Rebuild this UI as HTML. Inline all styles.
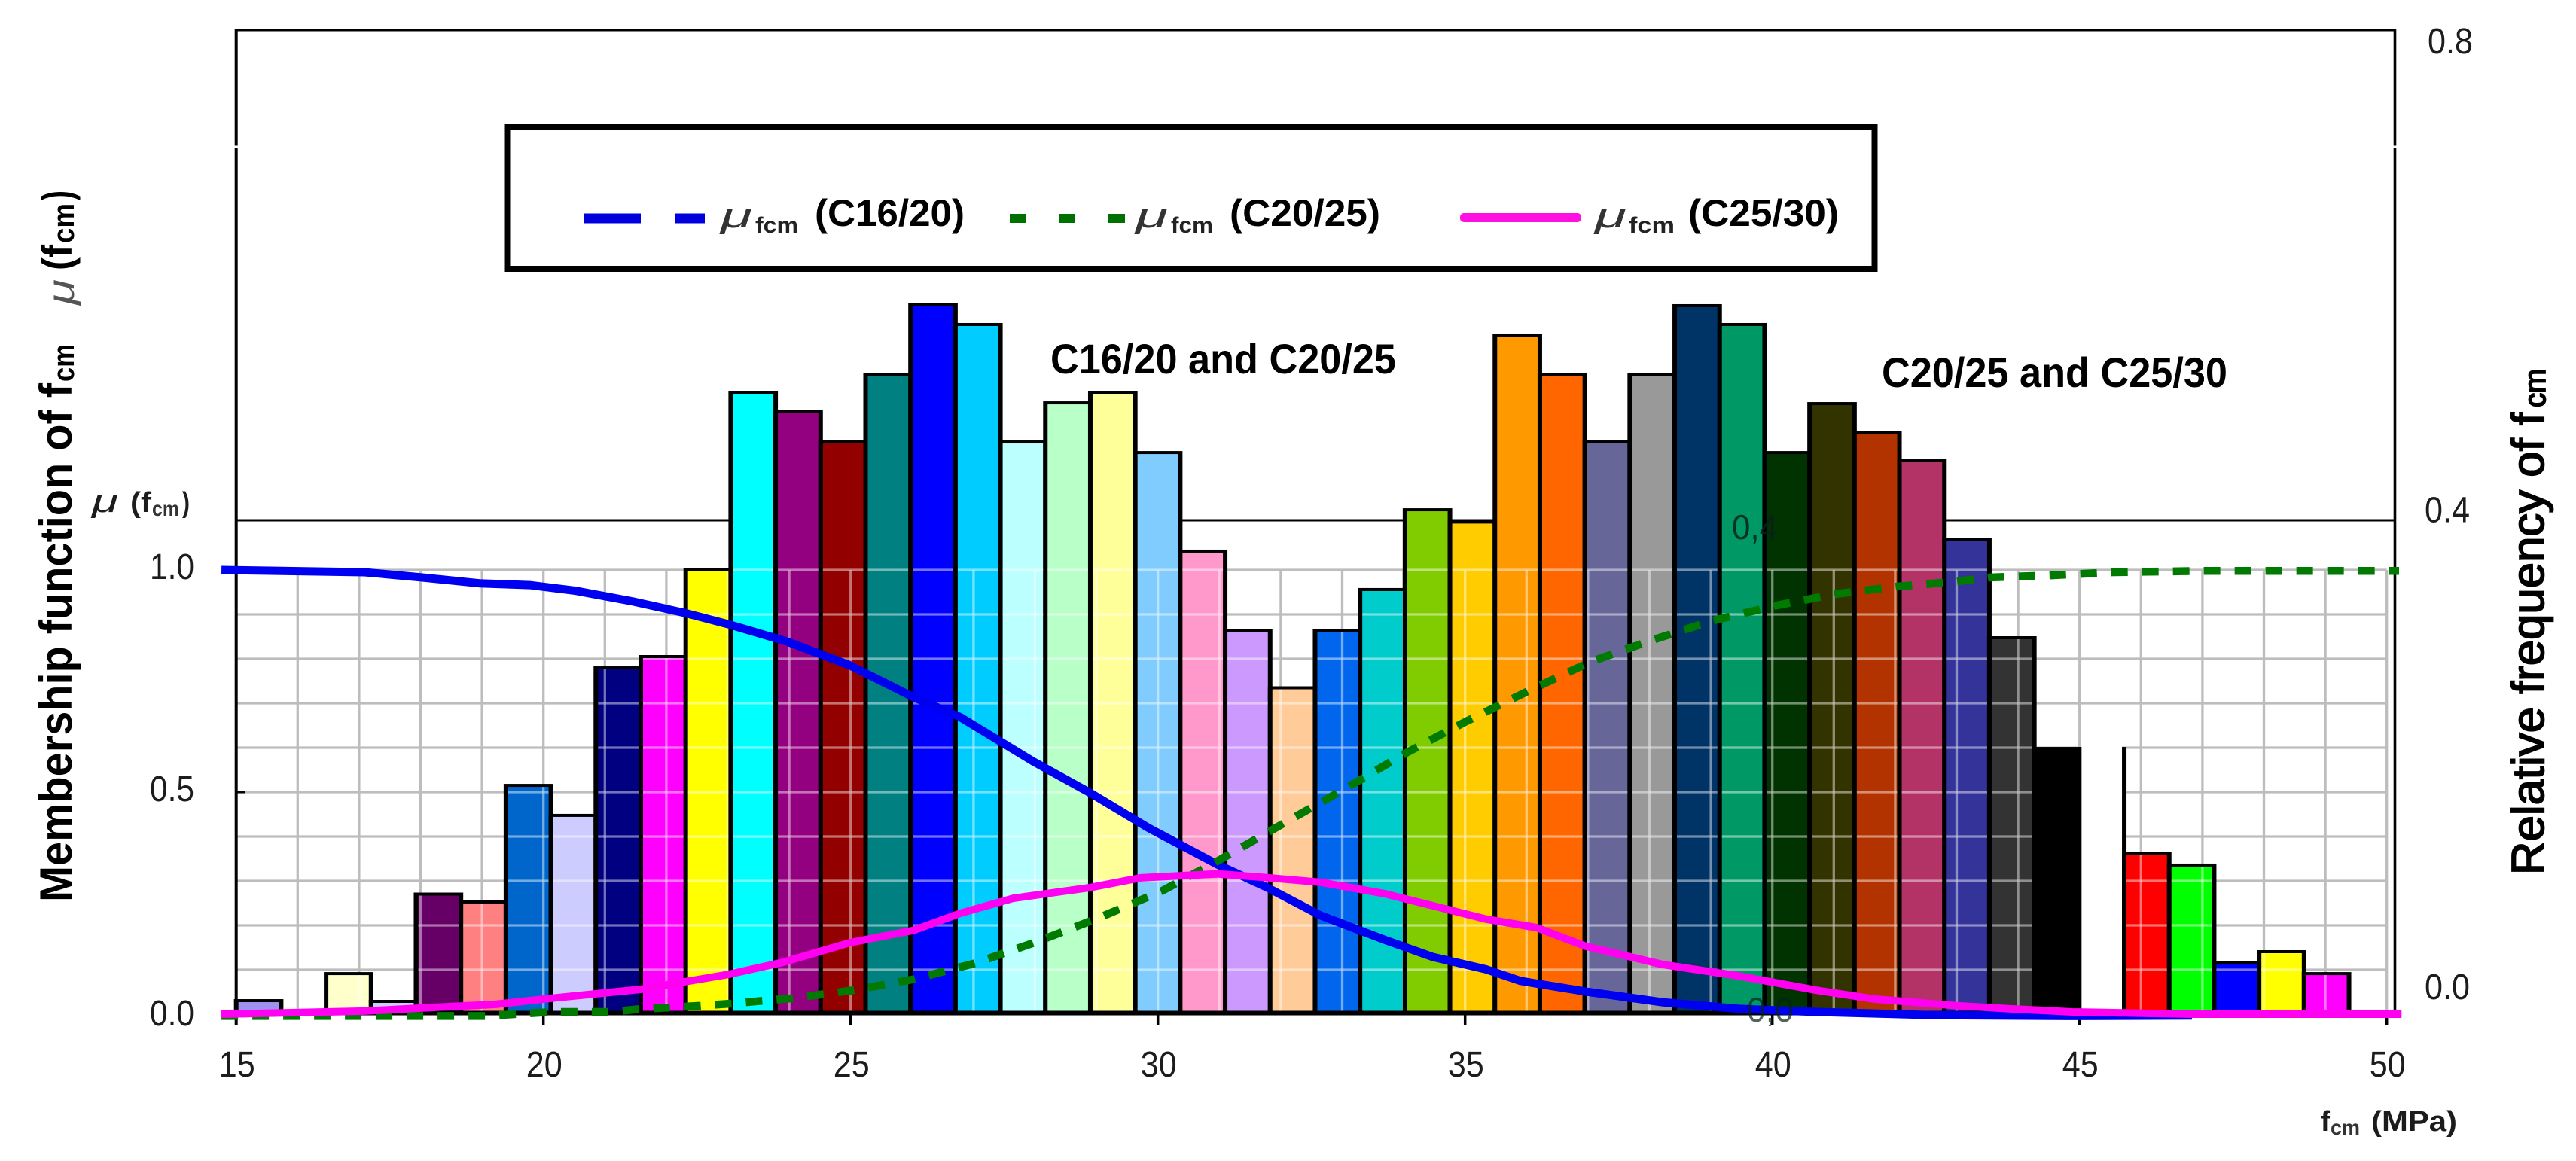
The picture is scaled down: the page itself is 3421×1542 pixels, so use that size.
<!DOCTYPE html>
<html lang="en">
<head>
<meta charset="utf-8">
<title>Membership function and relative frequency of fcm</title>
<style>
html,body{margin:0;padding:0;background:#fff;}
svg{display:block;font-family:"Liberation Sans",sans-serif;}
</style>
</head>
<body>
<svg id="chart" xmlns="http://www.w3.org/2000/svg" width="3421" height="1542" viewBox="0 0 3421 1542">
  <rect x="0" y="0" width="3421" height="1542" fill="#ffffff"/>
  <line x1="312" y1="40" x2="3182" y2="40" stroke="#000" stroke-width="3"/>
  <line x1="313" y1="691" x2="3180" y2="691" stroke="#000" stroke-width="3"/>
  <g id="grid-under"></g>
  <g id="bars"></g>
  <g id="grid-over" style="mix-blend-mode:screen"></g>
  <line x1="313.7" y1="38.5" x2="313.7" y2="1362" stroke="#000" stroke-width="4"/>
  <line x1="311" y1="195" x2="316" y2="195" stroke="#fff" stroke-width="3"/>
  <line x1="3180.5" y1="38.5" x2="3180.5" y2="1351" stroke="#000" stroke-width="3.6"/>
  <line x1="3178" y1="195" x2="3183" y2="195" stroke="#fff" stroke-width="3"/>
  <line x1="313" y1="1345.5" x2="3180" y2="1345.5" stroke="#000" stroke-width="6"/>
  <line x1="314" y1="1052" x2="326" y2="1052" stroke="#000" stroke-width="3"/>
  <g id="x-ticks"></g>
  <g id="curves"></g>
  <g id="tick-labels" font-size="48" fill="#1c1c1c"></g>

  <text x="2300" y="716" font-size="46" fill="#06221a" fill-opacity="0.85" textLength="61" lengthAdjust="spacingAndGlyphs">0,4</text>
  <text x="2320" y="1357" font-size="46" fill="#06221a" fill-opacity="0.7" textLength="62" lengthAdjust="spacingAndGlyphs">0,0</text>

  <g>
    <rect x="673.5" y="169" width="1816" height="188" fill="#fff" stroke="#000" stroke-width="8"/>
    <rect x="775" y="283.5" width="76" height="13" fill="#0000dd"/>
    <rect x="896" y="283.5" width="40" height="13" fill="#0000dd"/>
    <rect x="1341" y="284" width="22" height="12" fill="#007000"/>
    <rect x="1407" y="284" width="21" height="12" fill="#007000"/>
    <rect x="1472" y="284" width="22" height="12" fill="#007000"/>
    <rect x="1939" y="283" width="161" height="12" rx="5" fill="#ff10e0"/>
    <g>
      <text x="957" y="302" font-size="46" font-style="italic" fill="#333" textLength="42" lengthAdjust="spacingAndGlyphs">μ</text>
      <text x="1003" y="309" font-size="30" font-weight="bold" fill="#222" textLength="57" lengthAdjust="spacingAndGlyphs">fcm</text>
      <text x="1082" y="300" font-size="50" font-weight="bold" fill="#000" textLength="199" lengthAdjust="spacingAndGlyphs">(C16/20)</text>
    </g>
    <g>
      <text x="1508" y="302" font-size="46" font-style="italic" fill="#333" textLength="43" lengthAdjust="spacingAndGlyphs">μ</text>
      <text x="1555" y="309" font-size="30" font-weight="bold" fill="#222" textLength="56" lengthAdjust="spacingAndGlyphs">fcm</text>
      <text x="1633" y="300" font-size="50" font-weight="bold" fill="#000" textLength="200" lengthAdjust="spacingAndGlyphs">(C20/25)</text>
    </g>
    <g>
      <text x="2118" y="302" font-size="46" font-style="italic" fill="#333" textLength="42" lengthAdjust="spacingAndGlyphs">μ</text>
      <text x="2163" y="309" font-size="30" font-weight="bold" fill="#222" textLength="61" lengthAdjust="spacingAndGlyphs">fcm</text>
      <text x="2242" y="300" font-size="50" font-weight="bold" fill="#000" textLength="200" lengthAdjust="spacingAndGlyphs">(C25/30)</text>
    </g>
  </g>

  <text x="1395" y="496" font-size="56" font-weight="bold" fill="#000" textLength="459" lengthAdjust="spacingAndGlyphs">C16/20 and C20/25</text>
  <text x="2499" y="514" font-size="56" font-weight="bold" fill="#000" textLength="459" lengthAdjust="spacingAndGlyphs">C20/25 and C25/30</text>

  <g font-weight="bold" fill="#000">
    <text transform="translate(95,1198) rotate(-90)" font-size="60" textLength="689" lengthAdjust="spacingAndGlyphs">Membership function of f</text>
    <text transform="translate(98,507) rotate(-90)" font-size="40" textLength="50" lengthAdjust="spacingAndGlyphs">cm</text>
    <text transform="translate(98,405) rotate(-90)" font-size="50" font-style="italic" font-weight="normal" fill="#555" textLength="34" lengthAdjust="spacingAndGlyphs">μ</text>
    <text transform="translate(95,359) rotate(-90)" font-size="56" textLength="34" lengthAdjust="spacingAndGlyphs">(f</text>
    <text transform="translate(98,323) rotate(-90)" font-size="40" textLength="53" lengthAdjust="spacingAndGlyphs">cm</text>
    <text transform="translate(95,266) rotate(-90)" font-size="56" textLength="13" lengthAdjust="spacingAndGlyphs">)</text>
  </g>

  <g fill="#000" stroke="#000" stroke-width="1.8">
    <text transform="translate(3378,1162) rotate(-90)" font-size="60" textLength="614" lengthAdjust="spacingAndGlyphs">Relative frequency of f</text>
    <text transform="translate(3380,541) rotate(-90)" font-size="40" textLength="51" lengthAdjust="spacingAndGlyphs">cm</text>
  </g>

  <g font-weight="bold" fill="#1c1c1c">
    <text x="122" y="680" font-size="42" font-style="italic" font-weight="normal" textLength="35" lengthAdjust="spacingAndGlyphs">μ</text>
    <text x="173" y="680" font-size="38" textLength="28" lengthAdjust="spacingAndGlyphs">(f</text>
    <text x="202" y="685" font-size="28" fill="#333" textLength="36" lengthAdjust="spacingAndGlyphs">cm</text>
    <text x="242" y="680" font-size="38" textLength="10" lengthAdjust="spacingAndGlyphs">)</text>
  </g>

  <g font-weight="bold" fill="#1c1c1c">
    <text x="3082" y="1502" font-size="38" textLength="12" lengthAdjust="spacingAndGlyphs">f</text>
    <text x="3095" y="1507" font-size="28" fill="#333" textLength="39" lengthAdjust="spacingAndGlyphs">cm</text>
    <text x="3149" y="1502" font-size="38" textLength="114" lengthAdjust="spacingAndGlyphs">(MPa)</text>
  </g>
</svg>

<script>
// Chart data
const barFrequencies = [0.011,0,0.033,0.0104,0.0976,0.0912,0.186,0.1616,0.2815,0.2907,0.3611,0.5055,0.4896,0.4651,0.5202,0.5765,0.5606,0.4651,0.4969,0.5055,0.4565,0.3764,0.3121,0.2653,0.3121,0.3452,0.41,0.40,0.552,0.5202,0.4651,0.5202,0.5759,0.5606,0.4565,0.4963,0.4725,0.4498,0.3856,0.306,0.216,0.216,0.1304,0.1212,0.0422,0.0508,0.033];
const barColors = ["#a090f0","#993366","#FFFFCC","#CCCCFF","#660066","#FF8080","#0066CC","#CCCCFF","#000080","#FF00FF","#FFFF00","#00FFFF","#930080","#930000","#008080","#0000FF","#00CCFF","#BBFFFF","#B8FFC8","#FFFF99","#80CCFF","#FF99CC","#CC99FF","#FFCC99","#0066EE","#00CCCC","#80CC00","#FFCC00","#FF9900","#FF6600","#666699","#999999","#003366","#009966","#003300","#333300","#B33300","#B33366","#333399","#333333","#000000","#FFFFFF","#FF0000","#00FF00","#0000FF","#FFFF00","#FF00FF"];
const blueX = [14.76,17.09,18.03,18.96,19.78,20.53,21.46,22.34,23.03,23.96,24.99,26.03,26.78,27.97,28.90,29.84,30.97,31.78,32.65,33.70,34.47,35.34,35.9,36.96,38.21,39.46,40.71,42.59,44.82,46.83];
const blueMu = [1.0,0.995,0.983,0.970,0.966,0.953,0.929,0.902,0.877,0.839,0.785,0.713,0.669,0.569,0.498,0.420,0.337,0.285,0.222,0.167,0.129,0.101,0.075,0.051,0.027,0.012,0.005,-0.002,-0.004,-0.003];
const pinkX = [14.76,17.09,18.15,19.21,20.21,21.58,23.03,23.9,24.99,26.03,26.78,27.65,28.9,29.72,30.97,31.72,32.65,33.7,34.71,35.34,36.16,36.96,38.21,39.46,40.71,41.66,43.02,43.88,44.88,46.83,50.24];
const pinkMu = [0,0.007,0.015,0.022,0.037,0.056,0.09,0.117,0.161,0.189,0.227,0.261,0.285,0.307,0.316,0.308,0.297,0.271,0.236,0.214,0.195,0.153,0.112,0.086,0.054,0.034,0.019,0.012,0.005,0,0];
const greenX = [14.76,17.09,19.06,20.14,21.11,21.52,22.56,23.07,23.55,24.06,25.05,26.04,27.03,28.05,29.04,30.06,31.0,32.0,33.04,34.01,35.03,36.02,37.04,38.04,39.03,40.06,41.03,42.06,42.93,43.53,44.55,45.55,47.04,50.2];
const greenMu = [-0.004,-0.004,-0.004,0.005,0.005,0.011,0.019,0.024,0.03,0.036,0.054,0.079,0.115,0.164,0.217,0.277,0.347,0.426,0.507,0.586,0.66,0.727,0.793,0.842,0.886,0.92,0.946,0.963,0.973,0.983,0.988,0.995,0.998,0.998];
const xTickValues = [15,20,25,30,35,40,45,50];
const xTickLabels = ["15","20","25","30","35","40","45","50"];
const muGridValues = [0,0.1,0.2,0.3,0.4,0.5,0.6,0.7,0.8,0.9,1.0];
const xGridValues = [15,16,17,18,19,20,21,22,23,24,25,26,27,28,29,30,31,32,33,34,35,36,37,38,39,40,41,42,43,44,45,46,47,48,49,50];
const muTickValues = [1.0,0.5,0.0];
const muTickLabels = ["1.0","0.5","0.0"];
const freqTickValues = [0.8,0.4,0.0];
const freqTickLabels = ["0.8","0.4","0.0"];

// Axis functions
const NS = "http://www.w3.org/2000/svg";
const x = v => 313.7 + (v - 15) * 81.6;
const yMu = v => 1347 - v * 590;
const yFreq = v => 1347 - v * 1634;
const barBinWidth = 0.7316;
const barLeft = i => x(15 + i * barBinWidth);
const barRight = i => x(15 + (i + 1) * barBinWidth);

function make(tag, attrs) {
  const el = document.createElementNS(NS, tag);
  for (const k in attrs) el.setAttribute(k, attrs[k]);
  return el;
}

// Gridlines beneath bars and overlay clipped to bar interiors
const svg = document.getElementById('chart');
const defs = make('defs', {});


const clip = make('clipPath', {id: 'bar-interiors'});


defs.appendChild(clip);
svg.insertBefore(defs, svg.firstChild);

const gridUnder = document.getElementById('grid-under');
const gridOver = document.getElementById('grid-over');
gridOver.setAttribute('clip-path', 'url(#bar-interiors)');
gridOver.setAttribute('stroke-opacity', '0.6');

muGridValues.forEach(v => {
  const a = make('line', {x1: x(15), x2: x(50), y1: yMu(v), y2: yMu(v), stroke: '#bdbdbd', 'stroke-width': 3.3});
  
  
  gridUnder.appendChild(a);
  const b = make('line', {x1: x(15), x2: x(50), y1: yMu(v), y2: yMu(v), stroke: '#c0c0c0', 'stroke-width': 3.3});
  
  
  gridOver.appendChild(b);
});
xGridValues.forEach(v => {
  const a = make('line', {x1: x(v), x2: x(v), y1: yMu(1), y2: yMu(0), stroke: '#bdbdbd', 'stroke-width': 3.3});
  
  
  gridUnder.appendChild(a);
  const b = make('line', {x1: x(v), x2: x(v), y1: yMu(1), y2: yMu(0), stroke: '#c0c0c0', 'stroke-width': 3.3});
  
  
  gridOver.appendChild(b);
});

// Bars: black backing (thick sides, thin top) with a coloured interior
const barsG = document.getElementById('bars');
barFrequencies.forEach((f, i) => {
  if (f <= 0) return;
  const l = barLeft(i), r = barRight(i), t = yFreq(f), b = 1345;
  const back = make('rect', {x: l - 3, y: t - 2, width: r - l + 6, height: b - t + 2, fill: '#000'});
  
  
  barsG.appendChild(back);
  const isWhite = barColors[i] === '#FFFFFF';
  const fillTop = isWhite ? t - 3 : t + 2;
  const face = make('rect', {x: l + 3, y: fillTop, width: r - l - 6, height: b - fillTop, fill: barColors[i]});
  
  
  barsG.appendChild(face);
  if (barColors[i] !== '#000000' && !isWhite) {
    const c = make('rect', {x: l + 3, y: t + 2, width: r - l - 6, height: b - t - 2});
    
    
    clip.appendChild(c);
  }
});

// Curves
function points(xs, ys) {
  return xs.map((v, i) => x(v).toFixed(1) + ',' + yMu(ys[i]).toFixed(1)).join(' ');
}
const curves = document.getElementById('curves');
const blue = make('polyline', {points: points(blueX, blueMu), fill: 'none', stroke: '#0000f0', 'stroke-width': 11});


curves.appendChild(blue);
const green = make('polyline', {points: points(greenX, greenMu), fill: 'none', stroke: '#007a00', 'stroke-width': 10.5, 'stroke-dasharray': '22 19'});


curves.appendChild(green);
const pink = make('polyline', {points: points(pinkX, pinkMu), fill: 'none', stroke: '#ff00f0', 'stroke-width': 10});


curves.appendChild(pink);

// Ticks and tick labels
const xTicks = document.getElementById('x-ticks');
const labels = document.getElementById('tick-labels');
xTickValues.forEach((v, i) => {
  const t = make('line', {x1: x(v), x2: x(v), y1: 1347, y2: 1362, stroke: '#000', 'stroke-width': 3.5});
  
  
  xTicks.appendChild(t);
  const lab = make('text', {x: x(v) + 1, y: 1430, 'text-anchor': 'middle', textLength: 48, lengthAdjust: 'spacingAndGlyphs'});
  lab.textContent = xTickLabels[i];
  
  
  labels.appendChild(lab);
});
muTickValues.forEach((v, i) => {
  const lab = make('text', {x: 199, y: yMu(v) + (v > 0.1 ? 12 : 15), textLength: 59, lengthAdjust: 'spacingAndGlyphs'});
  lab.textContent = muTickLabels[i];
  
  
  labels.appendChild(lab);
});
freqTickValues.forEach((v, i) => {
  const lab = make('text', {x: v > 0.5 ? 3224 : 3220, y: yFreq(v) + (v > 0.5 ? 31 : v > 0.1 ? 0 : -20), textLength: 60, lengthAdjust: 'spacingAndGlyphs'});
  lab.textContent = freqTickLabels[i];
  
  
  labels.appendChild(lab);
});
</script>
</body>
</html>
